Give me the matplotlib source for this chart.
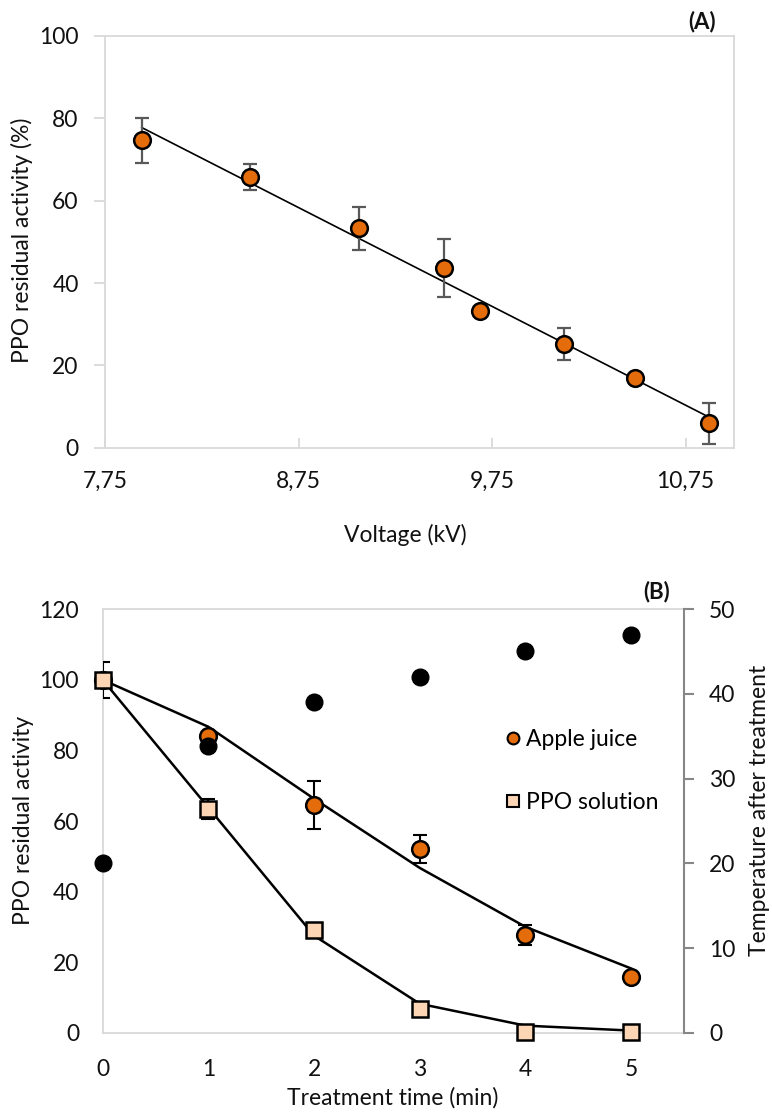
import matplotlib
matplotlib.use('Agg')
import matplotlib.pyplot as plt
import numpy as np
from matplotlib.lines import Line2D

plt.rcParams['font.family'] = ['Lato', 'DejaVu Sans']

# ---------------- Panel A data ----------------
voltage_kv = [7.94, 8.50, 9.06, 9.50, 9.69, 10.12, 10.49, 10.87]
ppo_activity_a = [74.7, 65.7, 53.3, 43.6, 33.1, 25.2, 17.0, 5.9]
ppo_err_a = [5.5, 3.1, 5.2, 7.0, 0.0, 3.9, 0.0, 5.0]
voltage_ticks = [7.75, 8.75, 9.75, 10.75]
voltage_ticklabels = ['7,75', '8,75', '9,75', '10,75']
activity_ticks_a = [0, 20, 40, 60, 80, 100]

# ---------------- Panel B data ----------------
time_min = [0, 1, 2, 3, 4, 5]
apple_juice = [100.0, 84.0, 64.5, 52.0, 27.6, 15.8]
apple_err = [0.0, 0.0, 6.8, 4.0, 2.8, 0.0]
ppo_solution = [100.0, 63.5, 29.2, 6.6, 0.2, 0.2]
ppo_sol_err = [5.0, 2.8, 0.0, 0.0, 0.0, 0.0]
apple_fit = [100.0, 86.7, 66.3, 46.7, 30.0, 18.2]
ppo_sol_fit = [100.0, 63.8, 27.5, 8.2, 2.0, 0.6]
temperature = [20.0, 33.9, 39.1, 42.0, 45.1, 47.0]
activity_ticks_b = [0, 20, 40, 60, 80, 100, 120]
temp_ticks = [0, 10, 20, 30, 40, 50]

ORANGE = '#E46C0A'
PEACH = '#FCD5B5'
LIGHT = '#D9D9D9'
DARKAX = '#878787'
TXT = '#111111'
FS = 16.5

W, H = 772, 1113
fig = plt.figure(figsize=(W / 100, H / 100), dpi=100)


def fx(px):
    return px / W


def fy(py):
    return 1 - py / H


# ================= Panel A =================
axA = fig.add_axes([fx(105), fy(447.7), (734 - 105) / W, (447.7 - 36) / H])
axA.set_xlim(7.75, 11.0)
axA.set_ylim(0, 100)
for s in axA.spines.values():
    s.set_color(LIGHT)
    s.set_linewidth(1.3)

xa = np.array(voltage_kv)
ya = np.array(ppo_activity_a)
coef = np.polyfit(xa, ya, 1)
xl = np.array([xa.min(), xa.max()])
axA.plot(xl, np.polyval(coef, xl), color='black', lw=1.2, zorder=2)

ea = np.array(ppo_err_a)
m = ea > 0
axA.errorbar(xa[m], ya[m], yerr=ea[m], fmt='none', ecolor='#595959',
             elinewidth=1.6, capsize=5, capthick=1.6, zorder=3)
axA.plot(xa, ya, ls='none', marker='o', ms=12, mfc=ORANGE, mec='black',
         mew=1.8, zorder=4, clip_on=False)

axA.set_xticks(voltage_ticks)
axA.set_xticklabels(voltage_ticklabels)
axA.set_yticks(activity_ticks_a)
axA.tick_params(axis='x', direction='in', length=7, width=1.3, color=LIGHT,
                pad=17, labelsize=FS, labelcolor=TXT)
axA.tick_params(axis='y', direction='out', length=8, width=1.3, color=LIGHT,
                pad=11, labelsize=FS, labelcolor=TXT)

fig.text(fx(22), fy(240), 'PPO residual activity (%)', rotation=90,
         ha='center', va='center', fontsize=FS, color=TXT)
fig.text(fx(405), fy(535), 'Voltage (kV)', ha='center', va='center',
         fontsize=FS, color=TXT)
fig.text(fx(702), fy(21.7), '(A)', ha='center', va='center', fontsize=16,
         fontweight='bold', color=TXT)

# ================= Panel B =================
axB = fig.add_axes([fx(102.7), fy(1032.7), (684 - 102.7) / W, (1032.7 - 609.3) / H])
axB.set_xlim(0, 5.5)
axB.set_ylim(0, 120)
for k in ['left', 'top', 'bottom']:
    axB.spines[k].set_color(LIGHT)
    axB.spines[k].set_linewidth(1.3)
axB.spines['right'].set_visible(False)

axB.plot(time_min, apple_fit, color='black', lw=1.8, zorder=2)
axB.plot(time_min, ppo_sol_fit, color='black', lw=1.8, zorder=2)

t = np.array(time_min)
aj = np.array(apple_juice)
aje = np.array(apple_err)
m1 = aje > 0
axB.errorbar(t[m1], aj[m1], yerr=aje[m1], fmt='none', ecolor='black',
             elinewidth=1.5, capsize=5, capthick=1.5, zorder=3)
axB.plot(t, aj, ls='none', marker='o', ms=12, mfc=ORANGE, mec='black',
         mew=1.8, zorder=4, clip_on=False)

ps = np.array(ppo_solution)
pse = np.array(ppo_sol_err)
m2 = pse > 0
axB.errorbar(t[m2], ps[m2], yerr=pse[m2], fmt='none', ecolor='black',
             elinewidth=1.5, capsize=5, capthick=1.5, zorder=5)
axB.plot(t, ps, ls='none', marker='s', ms=11.5, mfc=PEACH, mec='black',
         mew=1.8, zorder=6, clip_on=False)

axB.set_xticks(time_min)
axB.set_yticks(activity_ticks_b)
axB.tick_params(axis='x', length=0, pad=19, labelsize=FS, labelcolor=TXT)
axB.tick_params(axis='y', length=0, pad=17, labelsize=FS, labelcolor=TXT)

axT = axB.twinx()
axT.set_ylim(0, 50)
for k in ['left', 'top', 'bottom']:
    axT.spines[k].set_visible(False)
axT.spines['right'].set_color(DARKAX)
axT.spines['right'].set_linewidth(1.5)
axT.plot(time_min, temperature, ls='none', marker='o', ms=12, mfc='black',
         mec='black', zorder=7, clip_on=False)
axT.set_yticks(temp_ticks)
axT.tick_params(axis='y', direction='out', length=7, width=1.5, color=DARKAX,
                pad=11, labelsize=FS, labelcolor=TXT)

handles = [
    Line2D([], [], ls='none', marker='o', ms=8.5, mfc=ORANGE, mec='black', mew=1.5),
    Line2D([], [], ls='none', marker='s', ms=8.5, mfc=PEACH, mec='black', mew=1.5),
]
axT.legend(handles, ['Apple juice', 'PPO solution'], loc='center left',
           bbox_to_anchor=(fx(502), fy(770.6)), bbox_transform=fig.transFigure,
           frameon=False, fontsize=FS, handlelength=0.95, handletextpad=0.1,
           labelspacing=1.83, borderpad=0, borderaxespad=0)

fig.text(fx(24), fy(820), 'PPO residual activity', rotation=90,
         ha='center', va='center', fontsize=FS, color=TXT)
fig.text(fx(393), fy(1098), 'Treatment time (min)', ha='center', va='center',
         fontsize=FS, color=TXT)
fig.text(fx(759), fy(810), 'Temperature after treatment', rotation=90,
         ha='center', va='center', fontsize=FS, color=TXT)
fig.text(fx(657), fy(591.7), '(B)', ha='center', va='center', fontsize=16,
         fontweight='bold', color=TXT)

fig.savefig('out.png', dpi=100)
